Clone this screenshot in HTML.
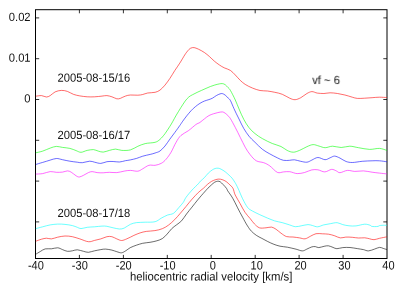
<!DOCTYPE html>
<html><head><meta charset="utf-8"><style>
html,body{margin:0;padding:0;background:#fff;}
body{width:405px;height:284px;overflow:hidden;font-family:"Liberation Sans",sans-serif;}
svg{display:block;}
</style></head><body>
<svg width="405" height="284" viewBox="0 0 405 284">
<rect width="405" height="284" fill="#fff"/>
<rect x="35.5" y="9.7" width="351.5" height="248.8" fill="none" stroke="#000" stroke-width="1"/>
<path d="M79.4 258.5v-3.6M79.4 9.7v3.6M123.4 258.5v-3.6M123.4 9.7v3.6M167.3 258.5v-3.6M167.3 9.7v3.6M211.2 258.5v-3.6M211.2 9.7v3.6M255.2 258.5v-3.6M255.2 9.7v3.6M299.1 258.5v-3.6M299.1 9.7v3.6M343.1 258.5v-3.6M343.1 9.7v3.6M35.5 17.9h3.7M387.0 17.9h-3.7M35.5 58.7h3.7M387.0 58.7h-3.7M35.5 99.5h3.7M387.0 99.5h-3.7M35.5 140.3h3.7M387.0 140.3h-3.7M35.5 181.1h3.7M387.0 181.1h-3.7M35.5 221.9h3.7M387.0 221.9h-3.7" stroke="#000" stroke-width="0.8" fill="none"/>
<g transform="translate(0.4 0.3)">
<path d="M35.4 254.0C36.1 253.5 38.3 252.1 39.9 251.2C41.5 250.3 42.9 249.0 44.8 248.6C46.6 248.2 48.9 248.7 51.0 248.5C53.1 248.3 55.4 247.4 57.2 247.5C59.1 247.6 60.5 248.7 62.1 249.3C63.7 249.9 65.3 250.8 67.0 251.0C68.7 251.2 70.3 250.8 72.0 250.5C73.7 250.2 75.1 249.4 76.9 249.5C78.8 249.6 81.2 250.6 83.1 251.0C84.9 251.4 86.2 252.1 88.0 252.0C89.8 251.9 92.1 250.9 94.2 250.5C96.3 250.1 98.6 249.6 100.4 249.3C102.2 249.0 103.5 248.7 105.3 248.8C107.1 248.9 109.7 249.4 111.5 249.8C113.3 250.2 114.8 251.0 116.4 251.4C118.0 251.8 119.7 252.7 121.2 252.5C122.7 252.3 124.1 251.2 125.5 250.4C126.9 249.6 128.1 248.3 129.8 247.4C131.6 246.5 133.9 245.6 136.0 244.9C138.1 244.2 139.9 243.5 142.2 243.0C144.5 242.5 147.3 242.4 149.6 242.0C151.8 241.6 153.6 241.3 155.7 240.7C157.8 240.1 160.1 239.5 161.9 238.3C163.7 237.2 165.1 235.5 166.7 233.8C168.3 232.2 169.7 230.0 171.3 228.4C172.9 226.8 174.5 225.8 176.2 224.5C177.8 223.2 179.5 222.3 181.2 220.5C182.8 218.7 184.4 216.0 186.1 213.7C187.8 211.4 189.7 209.2 191.6 206.8C193.5 204.5 195.2 202.1 197.3 199.6C199.4 197.1 202.4 193.6 204.1 191.7C205.8 189.8 206.3 189.2 207.4 188.0C208.5 186.8 209.8 185.7 210.9 184.7C212.1 183.7 213.2 182.5 214.3 181.9C215.4 181.3 216.4 181.0 217.3 180.9C218.2 180.8 218.9 180.9 219.8 181.5C220.7 182.1 221.6 183.1 222.7 184.2C223.8 185.3 225.4 187.1 226.2 188.2C227.0 189.2 226.3 188.9 227.3 190.5C228.3 192.1 230.7 195.1 232.3 197.9C234.0 200.7 235.5 204.3 237.2 207.5C238.8 210.7 240.5 213.9 242.2 216.9C243.8 219.9 245.6 223.3 247.1 225.6C248.6 227.9 249.5 229.3 251.0 230.9C252.5 232.5 254.2 233.8 255.9 235.0C257.6 236.2 259.6 237.1 261.5 238.1C263.4 239.1 265.3 240.2 267.3 241.2C269.3 242.2 271.4 243.2 273.5 244.0C275.6 244.8 277.4 245.4 279.6 245.9C281.9 246.4 284.3 246.4 287.0 246.9C289.7 247.4 293.2 248.3 295.7 248.9C298.2 249.5 300.1 250.6 301.9 250.6C303.7 250.6 304.7 249.6 306.3 248.9C307.9 248.2 310.0 247.0 311.4 246.6C312.8 246.2 313.7 246.2 314.9 246.3C316.1 246.4 316.9 247.4 318.4 247.3C319.9 247.2 322.1 246.3 323.7 246.0C325.3 245.7 326.5 245.3 328.0 245.5C329.5 245.7 331.2 246.6 332.6 247.1C334.0 247.6 334.9 248.4 336.5 248.4C338.1 248.4 340.2 247.5 342.4 247.3C344.6 247.1 347.2 247.0 349.6 247.2C352.0 247.4 354.7 248.0 356.9 248.3C359.1 248.7 361.1 248.9 363.0 249.3C364.9 249.7 366.1 250.7 368.0 250.6C369.9 250.5 372.2 249.4 374.1 248.8C376.0 248.2 377.7 247.2 379.1 247.1C380.6 247.0 381.6 247.7 382.8 248.1C384.0 248.5 385.9 249.1 386.5 249.3" stroke="#000000" stroke-width="0.58" fill="none" stroke-linejoin="round"/>
<path d="M35.4 240.9C36.4 240.6 39.3 239.4 41.1 238.9C42.9 238.4 44.4 238.0 46.0 237.9C47.6 237.8 49.1 238.8 51.0 238.6C52.9 238.4 54.9 237.4 57.2 236.9C59.5 236.4 62.1 235.8 64.6 235.7C67.1 235.6 69.5 235.9 72.0 236.4C74.5 236.9 76.7 237.8 79.4 238.6C82.1 239.4 85.5 241.2 88.0 241.4C90.5 241.7 92.1 240.6 94.2 240.1C96.3 239.6 98.4 239.2 100.4 238.6C102.5 238.0 104.7 236.8 106.5 236.4C108.3 236.0 109.8 236.0 111.5 236.4C113.2 236.8 114.8 238.0 116.4 238.6C118.0 239.2 119.5 240.2 121.2 240.2C122.9 240.2 124.5 239.3 126.5 238.5C128.6 237.7 131.3 236.1 133.5 235.1C135.7 234.1 137.6 233.3 139.7 232.6C141.8 231.9 143.4 231.5 145.9 231.1C148.4 230.7 151.8 230.8 154.5 230.3C157.2 229.9 159.6 229.3 161.9 228.4C164.2 227.5 166.0 226.3 168.1 224.8C170.2 223.3 172.3 221.3 174.3 219.3C176.3 217.3 178.0 215.2 179.9 213.0C181.8 210.8 183.6 208.6 185.6 206.2C187.6 203.8 189.6 201.1 191.7 198.8C193.8 196.5 196.0 194.0 197.9 192.2C199.8 190.4 201.5 189.3 203.0 188.0C204.5 186.7 205.6 185.3 206.9 184.2C208.2 183.1 209.6 182.0 210.9 181.2C212.2 180.4 213.6 179.9 214.8 179.5C216.0 179.1 217.2 178.8 218.3 178.8C219.5 178.8 220.5 178.9 221.7 179.3C222.9 179.7 224.4 180.3 225.7 181.2C227.0 182.1 228.4 183.5 229.6 184.7C230.8 185.8 231.7 186.4 232.6 188.1C233.5 189.8 233.6 192.2 234.8 194.7C236.0 197.2 238.1 200.4 239.7 203.3C241.3 206.2 242.9 209.5 244.6 212.0C246.3 214.5 248.2 216.4 249.8 218.3C251.4 220.2 252.5 222.1 254.0 223.6C255.5 225.1 257.1 226.8 259.0 227.5C260.9 228.2 263.6 227.6 265.6 227.5C267.6 227.4 269.5 226.6 271.2 226.8C272.9 227.1 274.1 228.0 275.7 229.0C277.3 230.0 278.9 231.7 280.6 232.9C282.4 234.1 284.2 235.7 286.2 236.3C288.2 236.9 290.3 236.5 292.5 236.7C294.7 236.9 297.2 237.3 299.2 237.6C301.2 237.9 302.9 238.8 304.7 238.5C306.5 238.2 308.3 236.8 310.1 235.9C311.9 235.1 313.6 233.8 315.6 233.4C317.6 233.0 319.9 233.4 322.0 233.5C324.1 233.6 326.1 233.6 328.2 233.9C330.2 234.2 332.4 234.9 334.3 235.5C336.2 236.1 338.0 237.4 339.9 237.6C341.8 237.8 343.4 236.9 345.4 236.8C347.4 236.7 349.8 236.8 351.9 237.0C354.0 237.2 356.0 237.6 358.1 237.7C360.2 237.8 362.5 237.4 364.3 237.5C366.1 237.6 367.6 238.2 369.2 238.5C370.8 238.8 372.0 239.5 373.6 239.4C375.2 239.3 377.0 238.5 379.1 238.0C381.2 237.5 385.3 236.8 386.5 236.5" stroke="#ff0000" stroke-width="0.58" fill="none" stroke-linejoin="round"/>
<path d="M35.4 228.3C36.5 228.0 39.9 227.1 42.3 226.5C44.7 225.9 47.3 225.0 49.8 224.6C52.3 224.2 54.7 223.9 57.2 223.8C59.7 223.7 62.1 223.8 64.6 224.1C67.1 224.3 70.0 224.8 72.0 225.3C74.0 225.8 75.5 226.5 76.9 227.0C78.3 227.5 78.9 228.3 80.6 228.3C82.2 228.3 84.5 227.3 86.8 227.0C89.1 226.7 91.7 226.7 94.2 226.5C96.7 226.3 99.5 225.9 101.6 225.8C103.6 225.7 104.7 225.7 106.5 226.0C108.3 226.3 110.6 227.1 112.7 227.5C114.8 227.9 117.1 228.6 118.9 228.7C120.8 228.8 122.0 228.6 123.8 227.8C125.6 227.0 127.9 224.9 130.0 224.0C132.1 223.1 133.7 222.7 136.2 222.3C138.7 222.0 141.7 222.1 144.8 221.9C147.9 221.8 152.0 222.1 154.7 221.4C157.4 220.7 158.8 219.0 160.8 217.9C162.9 216.8 164.9 215.6 167.0 214.8C169.1 214.0 171.2 214.3 173.1 213.0C175.0 211.7 176.9 209.0 178.5 207.2C180.1 205.4 181.7 203.7 182.9 202.0C184.1 200.3 184.1 199.2 185.6 197.1C187.1 195.0 189.6 192.0 191.7 189.7C193.8 187.4 196.5 185.0 197.9 183.5C199.3 182.0 199.0 181.9 200.0 180.9C201.0 179.9 202.7 178.7 204.0 177.3C205.3 176.0 206.6 174.1 207.9 172.8C209.2 171.5 210.8 170.4 211.9 169.6C213.1 168.8 213.8 168.5 214.8 168.2C215.8 167.9 216.8 167.8 217.8 167.9C218.8 168.0 219.5 168.3 220.7 168.9C221.8 169.5 223.4 170.4 224.7 171.4C226.0 172.4 227.4 173.7 228.6 174.8C229.8 175.9 230.6 176.6 231.6 177.8C232.6 179.0 233.6 180.5 234.6 182.2C235.6 183.8 236.2 185.0 237.5 187.7C238.8 190.4 240.6 195.2 242.2 198.4C243.8 201.6 245.5 204.9 247.1 207.0C248.7 209.1 249.9 209.5 252.0 210.7C254.1 211.9 256.9 213.2 259.4 214.4C261.9 215.6 264.4 216.7 266.9 217.7C269.4 218.7 271.8 219.8 274.3 220.6C276.8 221.4 279.2 221.6 281.7 222.3C284.2 223.0 286.9 223.9 289.1 224.6C291.4 225.3 293.1 226.3 295.2 226.4C297.2 226.5 299.3 225.8 301.4 225.4C303.5 225.1 305.8 224.3 307.6 224.3C309.4 224.3 310.4 224.8 312.0 225.2C313.6 225.6 315.3 226.6 317.2 226.5C319.1 226.4 321.2 225.1 323.3 224.6C325.4 224.1 327.6 223.8 329.9 223.4C332.1 223.0 334.7 222.2 336.8 222.4C338.9 222.6 340.3 223.8 342.3 224.3C344.3 224.8 346.4 225.3 348.6 225.5C350.8 225.7 353.0 225.9 355.6 225.6C358.2 225.3 362.0 224.0 364.3 223.9C366.6 223.8 368.5 224.6 369.6 224.9C370.7 225.2 370.4 225.8 371.1 226.0C371.9 226.2 373.0 226.3 374.1 226.3C375.2 226.3 376.8 226.3 377.6 226.1C378.5 225.9 378.5 225.5 379.2 225.3C379.9 225.1 380.4 225.1 381.6 225.0C382.8 224.9 385.7 225.0 386.5 225.0" stroke="#00ffff" stroke-width="0.58" fill="none" stroke-linejoin="round"/>
<path d="M35.4 173.8C36.5 173.7 39.9 173.7 42.3 173.3C44.7 172.9 47.5 171.5 49.8 171.3C52.1 171.1 53.8 171.9 55.9 172.0C58.0 172.1 60.2 172.0 62.1 171.8C64.0 171.6 65.6 170.6 67.0 170.6C68.4 170.6 69.2 171.0 70.7 171.8C72.2 172.6 74.3 174.7 75.7 175.5C77.1 176.3 77.7 176.8 78.9 176.7C80.1 176.6 81.6 175.7 83.1 175.0C84.6 174.3 86.6 172.9 88.0 172.3C89.4 171.7 90.2 171.3 91.7 171.3C93.2 171.3 94.9 172.1 96.7 172.3C98.5 172.5 100.8 172.6 102.8 172.5C104.8 172.4 106.7 172.0 109.0 172.0C111.3 172.0 113.9 172.5 116.4 172.3C118.9 172.1 121.5 171.2 123.8 170.8C126.1 170.4 127.7 170.1 130.0 170.1C132.3 170.1 135.3 171.2 137.4 170.9C139.5 170.6 140.5 169.5 142.3 168.5C144.2 167.5 146.4 165.6 148.5 165.0C150.6 164.4 152.6 165.3 154.7 165.0C156.8 164.7 159.1 164.0 160.9 163.0C162.8 162.0 164.2 160.7 165.8 158.8C167.4 157.0 169.0 154.7 170.7 151.9C172.3 149.1 174.0 144.8 175.7 142.0C177.3 139.2 178.5 137.0 180.6 135.1C182.7 133.2 185.5 132.2 188.0 130.4C190.5 128.6 193.5 125.7 195.4 124.3C197.3 122.9 198.2 123.1 199.6 122.1C201.0 121.1 202.6 119.6 204.1 118.5C205.6 117.4 207.0 116.1 208.5 115.3C210.0 114.5 211.5 114.0 213.0 113.5C214.5 113.0 215.9 112.6 217.4 112.3C218.9 112.0 220.7 111.5 221.9 111.6C223.1 111.7 223.8 112.2 224.8 112.9C225.8 113.6 226.9 114.7 227.8 115.6C228.7 116.5 228.8 116.4 230.0 118.3C231.2 120.2 233.3 124.1 234.9 127.2C236.5 130.3 238.2 133.7 239.8 137.0C241.5 140.3 243.2 144.0 244.8 146.9C246.5 149.8 247.8 152.0 249.7 154.3C251.5 156.6 253.6 159.2 255.9 160.5C258.2 161.8 261.1 161.6 263.3 162.4C265.6 163.2 267.1 164.0 269.4 165.6C271.7 167.2 274.7 171.1 277.0 172.1C279.3 173.1 281.1 171.7 283.2 171.6C285.3 171.5 287.1 171.1 289.4 171.4C291.7 171.7 294.3 173.2 296.8 173.3C299.3 173.4 301.8 172.8 304.2 172.2C306.6 171.6 309.2 170.0 311.4 169.6C313.6 169.2 315.3 169.2 317.5 169.5C319.7 169.8 322.1 171.7 324.4 171.6C326.7 171.5 329.2 169.3 331.1 169.1C333.0 168.9 334.5 170.0 335.9 170.6C337.3 171.2 337.8 172.5 339.6 172.4C341.5 172.3 344.5 170.3 347.0 170.1C349.5 169.9 351.7 171.0 354.4 171.1C357.1 171.2 360.1 170.5 363.0 170.6C365.9 170.7 369.0 171.5 371.7 171.9C374.4 172.3 376.6 172.5 379.1 172.8C381.6 173.1 385.3 173.5 386.5 173.6" stroke="#ff00ff" stroke-width="0.58" fill="none" stroke-linejoin="round"/>
<path d="M35.4 164.2C36.5 163.8 39.9 162.8 42.3 162.1C44.7 161.4 47.5 160.5 49.8 159.8C52.1 159.2 53.8 158.3 55.9 158.2C58.0 158.1 59.8 158.9 62.1 159.4C64.4 159.9 67.0 160.5 69.5 160.9C72.0 161.3 74.8 161.7 76.9 161.9C79.0 162.2 79.8 162.6 81.9 162.4C84.0 162.2 87.2 161.0 89.3 160.9C91.3 160.8 92.3 161.5 94.2 161.9C96.1 162.3 98.4 163.2 100.4 163.1C102.5 163.0 104.5 161.7 106.5 161.4C108.5 161.1 110.6 161.1 112.7 161.2C114.8 161.2 116.9 161.8 118.9 161.7C121.0 161.6 123.2 160.8 125.0 160.4C126.8 160.1 128.1 160.0 130.0 159.6C131.9 159.2 134.1 158.7 136.2 158.1C138.2 157.5 140.0 156.6 142.3 155.9C144.6 155.2 147.7 154.6 149.8 154.1C151.9 153.6 153.1 153.3 154.7 152.7C156.3 152.1 157.9 151.9 159.6 150.7C161.2 149.5 162.9 147.7 164.6 145.7C166.2 143.7 167.9 141.1 169.5 138.8C171.1 136.6 172.8 134.5 174.4 132.2C176.1 129.9 178.2 127.0 179.4 125.2C180.7 123.4 180.8 123.1 181.9 121.5C183.1 119.9 184.8 117.4 186.3 115.6C187.8 113.8 189.2 112.0 190.7 110.4C192.2 108.8 193.7 107.4 195.2 106.2C196.7 105.0 198.1 103.9 199.6 103.0C201.1 102.1 202.6 101.3 204.1 100.7C205.6 100.1 207.2 99.8 208.5 99.3C209.8 98.8 211.0 98.5 212.2 97.8C213.4 97.1 214.7 96.0 215.9 95.3C217.1 94.6 218.6 93.9 219.6 93.6C220.6 93.3 221.0 93.1 221.9 93.3C222.8 93.5 223.8 94.0 224.8 94.8C225.8 95.5 226.9 96.9 227.8 97.8C228.7 98.7 229.0 98.4 230.0 100.2C231.0 102.0 232.2 105.3 233.6 108.4C235.0 111.5 236.9 115.4 238.6 118.7C240.2 122.0 241.8 125.6 243.5 128.4C245.2 131.2 246.7 133.5 248.5 135.8C250.3 138.1 252.3 139.8 254.6 142.0C256.9 144.2 259.5 147.1 262.0 149.0C264.5 150.9 266.9 152.2 269.4 153.6C271.9 155.0 274.6 156.4 276.9 157.5C279.2 158.6 280.9 159.6 283.0 160.0C285.1 160.4 287.3 160.1 289.2 160.0C291.1 159.9 292.2 159.3 294.1 159.5C296.0 159.7 298.2 160.6 300.3 161.0C302.4 161.4 304.6 162.1 306.5 161.9C308.4 161.7 309.6 160.6 311.4 159.8C313.2 159.0 315.3 157.3 317.5 157.2C319.7 157.1 322.6 159.3 324.6 159.4C326.6 159.5 328.1 158.1 329.7 157.5C331.3 156.9 332.5 155.8 334.2 155.8C335.9 155.9 337.7 156.9 339.6 157.8C341.5 158.7 343.6 160.5 345.7 161.2C347.8 161.9 349.2 162.2 351.9 162.2C354.6 162.2 358.5 161.3 361.8 161.0C365.1 160.7 368.8 160.6 371.7 160.5C374.6 160.4 376.6 160.3 379.1 160.5C381.6 160.7 385.3 161.3 386.5 161.5" stroke="#0000ff" stroke-width="0.58" fill="none" stroke-linejoin="round"/>
<path d="M35.4 152.5C36.5 152.2 39.9 151.6 42.3 150.8C44.7 150.0 47.5 148.6 49.8 147.8C52.1 147.0 53.8 146.2 55.9 146.1C58.0 146.0 59.8 146.8 62.1 147.1C64.4 147.4 67.2 147.6 69.5 148.1C71.8 148.6 73.9 149.7 75.7 150.3C77.5 151.0 78.8 152.0 80.6 152.0C82.4 152.0 84.7 150.5 86.8 150.1C88.9 149.7 91.2 149.2 93.0 149.3C94.8 149.4 96.3 150.4 97.9 150.8C99.5 151.2 101.0 151.9 102.8 151.8C104.6 151.7 106.9 150.6 109.0 150.1C111.1 149.6 113.1 148.8 115.2 148.8C117.3 148.8 118.9 150.0 121.4 150.1C123.9 150.2 127.3 150.3 130.0 149.6C132.7 148.9 134.9 147.1 137.4 146.0C139.9 144.9 141.9 144.0 144.8 143.3C147.7 142.6 152.2 142.7 154.7 142.0C157.2 141.3 157.9 140.5 159.6 139.1C161.2 137.7 162.9 135.6 164.6 133.4C166.2 131.2 168.2 128.0 169.5 126.0C170.8 124.0 171.1 123.4 172.2 121.5C173.3 119.6 174.5 117.1 175.9 114.8C177.3 112.5 178.9 109.8 180.4 107.4C181.9 105.1 183.5 102.5 184.8 100.7C186.2 98.9 187.3 97.6 188.5 96.6C189.7 95.5 190.8 95.2 192.2 94.4C193.6 93.7 195.2 92.8 196.7 92.1C198.2 91.4 199.6 90.8 201.1 90.1C202.6 89.4 204.1 88.8 205.6 88.1C207.1 87.4 208.5 86.8 210.0 86.2C211.5 85.6 212.9 85.1 214.4 84.7C215.9 84.3 217.7 83.8 218.9 83.6C220.2 83.4 220.9 83.2 221.9 83.3C222.9 83.4 223.8 83.7 224.8 84.4C225.8 85.1 226.9 86.5 227.8 87.4C228.7 88.4 228.8 88.0 230.0 90.1C231.2 92.1 233.5 96.6 234.9 99.7C236.3 102.8 237.2 105.3 238.6 108.6C240.0 111.9 241.8 116.2 243.5 119.3C245.2 122.4 246.7 124.9 248.5 127.2C250.3 129.5 252.3 131.5 254.6 133.3C256.9 135.2 259.1 136.7 262.0 138.3C264.9 140.0 268.8 141.9 271.9 143.2C275.0 144.5 278.1 145.0 280.6 146.2C283.1 147.3 284.6 149.1 286.7 150.1C288.8 151.1 290.8 151.9 292.9 151.9C295.0 151.9 296.8 151.0 299.1 150.1C301.4 149.2 304.2 147.4 306.5 146.4C308.8 145.4 310.7 144.4 312.7 144.3C314.7 144.2 316.7 145.3 318.7 145.8C320.7 146.3 322.6 147.4 324.8 147.4C327.1 147.4 329.5 145.9 332.2 145.9C334.9 145.9 337.9 147.2 340.8 147.2C343.7 147.2 346.5 145.9 349.4 145.9C352.3 145.9 354.8 146.9 358.1 147.4C361.4 147.9 365.7 149.0 369.2 149.1C372.7 149.2 376.2 147.9 379.1 148.1C382.0 148.3 385.3 149.8 386.5 150.1" stroke="#00ff00" stroke-width="0.58" fill="none" stroke-linejoin="round"/>
<path d="M35.4 95.9C36.4 95.8 39.3 95.2 41.1 95.3C42.9 95.4 44.5 96.7 46.0 96.7C47.5 96.7 48.3 96.2 49.8 95.3C51.2 94.4 52.9 92.5 54.7 91.6C56.6 90.7 58.9 90.2 60.9 90.1C62.9 90.0 65.0 90.4 67.0 91.1C69.0 91.8 71.1 93.3 73.2 94.1C75.3 94.8 77.1 95.2 79.4 95.6C81.7 96.0 84.3 96.3 86.8 96.5C89.3 96.7 91.7 96.6 94.2 96.5C96.7 96.4 99.5 96.0 101.6 95.8C103.6 95.6 104.8 95.2 106.5 95.3C108.2 95.4 109.8 96.0 111.5 96.5C113.2 97.0 115.0 98.2 116.4 98.5C117.8 98.8 118.7 98.5 120.1 98.0C121.5 97.5 123.3 96.3 125.0 95.8C126.7 95.2 127.9 94.8 130.0 94.7C132.1 94.6 135.3 95.0 137.4 94.9C139.5 94.8 140.7 94.6 142.3 94.2C144.0 93.8 145.2 93.1 147.3 92.7C149.4 92.3 152.6 92.5 154.7 92.0C156.8 91.5 157.9 91.0 159.6 89.8C161.2 88.6 162.9 86.8 164.6 84.8C166.2 82.8 167.9 80.5 169.5 78.1C171.1 75.7 172.8 72.8 174.4 70.2C176.1 67.7 177.8 65.4 179.4 62.8C181.1 60.2 182.9 56.9 184.3 54.7C185.7 52.5 187.0 50.9 188.0 49.8C189.0 48.6 189.6 48.2 190.5 47.8C191.4 47.4 192.5 47.1 193.7 47.3C194.9 47.5 196.2 48.0 197.9 48.8C199.6 49.6 202.2 51.0 204.0 52.2C205.8 53.4 207.3 54.8 209.0 56.2C210.7 57.7 212.3 59.5 214.0 60.9C215.7 62.3 217.3 63.5 218.9 64.6C220.5 65.7 222.0 66.6 223.8 67.5C225.7 68.4 228.2 68.9 230.0 70.1C231.8 71.3 233.2 73.0 234.9 74.7C236.6 76.4 238.2 78.5 239.9 80.1C241.6 81.7 242.8 82.8 244.8 84.1C246.9 85.4 249.7 86.8 252.2 87.8C254.7 88.8 257.1 89.7 259.6 90.2C262.1 90.7 264.5 90.4 267.0 90.7C269.5 91.0 271.9 91.5 274.4 92.0C276.9 92.5 279.4 93.0 281.9 94.0C284.4 95.0 287.2 97.0 289.3 97.9C291.4 98.8 292.9 99.5 294.7 99.4C296.5 99.3 298.4 98.4 300.4 97.4C302.4 96.4 304.6 94.2 306.5 93.2C308.4 92.2 309.8 91.4 311.5 91.3C313.2 91.2 314.9 92.5 316.9 92.8C318.9 93.1 321.4 93.2 323.5 93.2C325.6 93.2 327.4 92.5 329.7 92.5C332.0 92.5 334.6 92.8 337.1 93.2C339.6 93.6 342.0 94.1 344.5 94.7C347.0 95.3 349.8 96.3 351.9 96.9C354.0 97.5 354.8 97.9 356.9 98.1C359.0 98.3 361.8 98.0 364.3 97.9C366.8 97.8 369.2 97.6 371.7 97.4C374.1 97.2 376.5 96.9 379.0 96.9C381.5 96.9 385.2 97.2 386.5 97.2" stroke="#ff0000" stroke-width="0.58" fill="none" stroke-linejoin="round"/>
</g>
<g font-family="'Liberation Sans', sans-serif" font-size="11.2" text-rendering="geometricPrecision" fill="#111" opacity="0.999"><text font-size="11" transform="translate(35.90 269.60) scale(1 1.120) rotate(0.03)" text-anchor="middle">-40</text><text font-size="11" transform="translate(79.81 269.60) scale(1 1.120) rotate(0.03)" text-anchor="middle">-30</text><text font-size="11" transform="translate(123.72 269.60) scale(1 1.120) rotate(0.03)" text-anchor="middle">-20</text><text font-size="11" transform="translate(167.64 269.60) scale(1 1.120) rotate(0.03)" text-anchor="middle">-10</text><text font-size="11" transform="translate(212.75 269.60) scale(1 1.120) rotate(0.03)" text-anchor="middle">0</text><text font-size="11" transform="translate(256.66 269.60) scale(1 1.120) rotate(0.03)" text-anchor="middle">10</text><text font-size="11" transform="translate(300.57 269.60) scale(1 1.120) rotate(0.03)" text-anchor="middle">20</text><text font-size="11" transform="translate(344.49 269.60) scale(1 1.120) rotate(0.03)" text-anchor="middle">30</text><text font-size="11" transform="translate(388.40 269.60) scale(1 1.120) rotate(0.03)" text-anchor="middle">40</text><text transform="translate(30.60 20.90) scale(1 1.060) rotate(0.03)" text-anchor="end">0.02</text><text transform="translate(30.60 61.70) scale(1 1.060) rotate(0.03)" text-anchor="end">0.01</text><text transform="translate(30.60 102.50) scale(1 1.060) rotate(0.03)" text-anchor="end">0</text><text transform="translate(57.50 81.80) scale(1 1.060) rotate(0.03)" text-anchor="start">2005-08-15/16</text><text transform="translate(57.50 138.90) scale(1 1.060) rotate(0.03)" text-anchor="start">2005-08-16/17</text><text transform="translate(57.50 216.90) scale(1 1.060) rotate(0.03)" text-anchor="start">2005-08-17/18</text><text transform="translate(312.30 83.60) scale(1 1.060) rotate(0.03)" text-anchor="start">vf ~ 6</text><text font-size="11.34" transform="translate(211.15 280.50) scale(1 1.060) rotate(0.03)" text-anchor="middle">heliocentric radial velocity [km/s]</text></g>
</svg>
</body></html>
